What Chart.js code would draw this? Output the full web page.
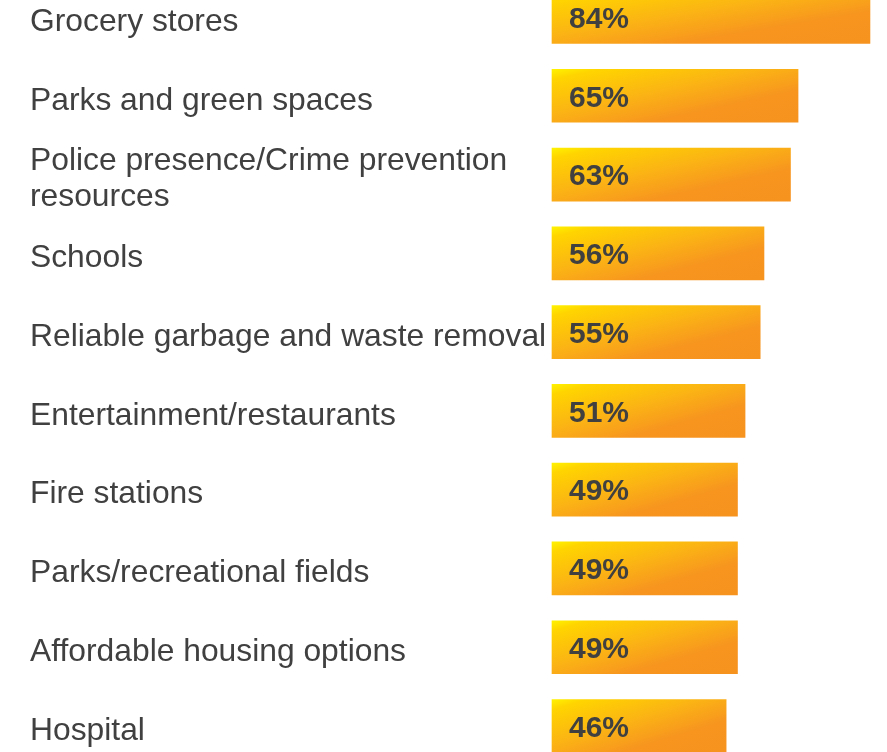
<!DOCTYPE html>
<html>
<head>
<meta charset="utf-8">
<script src="https://cdn.jsdelivr.net/npm/chart.js@4/dist/chart.umd.min.js"></script>
<style>
  html, body { margin: 0; padding: 0; background: #ffffff; overflow: hidden; }
  #wrap { width: 887px; height: 752px; position: relative; }
</style>
</head>
<body>
<div id="wrap"><canvas id="c" width="887" height="752"></canvas></div>
<script>
const categories = [
  "Grocery stores",
  "Parks and green spaces",
  ["Police presence/Crime prevention", "resources"],
  "Schools",
  "Reliable garbage and waste removal",
  "Entertainment/restaurants",
  "Fire stations",
  "Parks/recreational fields",
  "Affordable housing options",
  "Hospital"
];
const values = [84, 65, 63, 56, 55, 51, 49, 49, 49, 46];
const valueLabels = ["84%", "65%", "63%", "56%", "55%", "51%", "49%", "49%", "49%", "46%"];

const BAR_H = 53;

function barGradient(ctx) {
  const chart = ctx.chart;
  const xs = chart.scales.x, ys = chart.scales.y;
  if (!chart.chartArea || !xs || !ys || ctx.dataIndex === undefined) return '#F9A51A';
  const v = values[ctx.dataIndex];
  const x0 = xs.getPixelForValue(0);
  const x1 = xs.getPixelForValue(v);
  const yc = ys.getPixelForValue(ctx.dataIndex);
  const y0 = yc - BAR_H / 2;
  const w = x1 - x0, h = BAR_H;
  const k = 2 * w * h / (w * w + h * h);
  const g = chart.ctx.createLinearGradient(x0, y0, x0 + h * k, y0 + w * k);
  g.addColorStop(0, '#FFF200');
  g.addColorStop(0.1, '#FFD400');
  g.addColorStop(0.42, '#FBB414');
  g.addColorStop(0.7, '#F7951F');
  g.addColorStop(1, '#F6921E');
  return g;
}

const valueLabelPlugin = {
  id: 'valueLabels',
  afterDatasetsDraw(chart) {
    const c = chart.ctx;
    const xs = chart.scales.x, ys = chart.scales.y;
    c.save();
    c.font = 'bold 30px "Liberation Sans", Arial, sans-serif';
    c.fillStyle = '#404040';
    c.textAlign = 'left';
    c.textBaseline = 'middle';
    valueLabels.forEach((t, i) => {
      c.fillText(t, xs.getPixelForValue(0) + 17, ys.getPixelForValue(i) + 2.5);
    });
    c.restore();
  }
};

new Chart(document.getElementById('c'), {
  type: 'bar',
  data: {
    labels: categories,
    datasets: [{
      data: values,
      backgroundColor: barGradient,
      borderWidth: 0,
      barThickness: BAR_H,
      clip: false
    }]
  },
  options: {
    indexAxis: 'y',
    responsive: false,
    animation: false,
    layout: { padding: { left: 30, right: 0, top: 17, bottom: 26 } },
    plugins: { legend: { display: false }, tooltip: { enabled: false } },
    scales: {
      x: { min: 0, max: 88.5, display: false },
      y: {
        offset: false,
        border: { display: false },
        grid: { display: false, drawTicks: false },
        afterFit(scale) {
          scale.width = 522;
          scale.paddingTop = 0;
          scale.paddingBottom = 0;
        },
        ticks: {
          crossAlign: 'far',
          color: '#404040',
          labelOffset: 5,
          font: { family: '"Liberation Sans", Arial, sans-serif', size: 31.8, lineHeight: 1.14 },
          autoSkip: false
        }
      }
    }
  },
  plugins: [valueLabelPlugin]
});
</script>
</body>
</html>
